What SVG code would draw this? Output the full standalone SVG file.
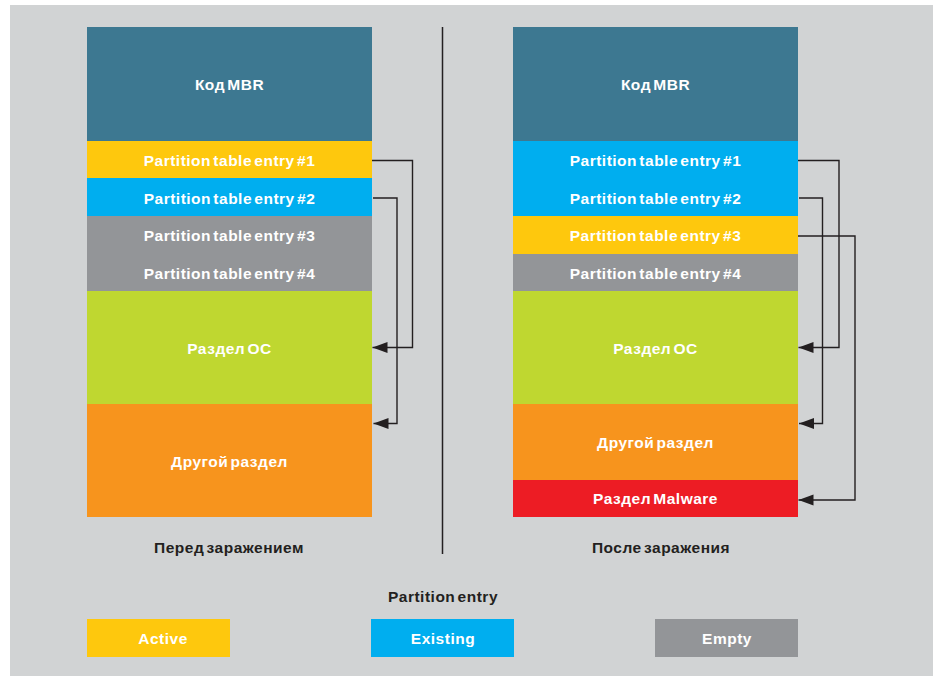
<svg xmlns="http://www.w3.org/2000/svg" width="935" height="676" viewBox="0 0 935 676">
<defs>
<style>
.t{font-family:"Liberation Sans",Arial,sans-serif;font-weight:bold;font-size:15.5px;fill:#fff;text-anchor:middle;letter-spacing:0.5px;word-spacing:-2.5px}
.d{fill:#231f20}
.c{fill:none;stroke:#231f20;stroke-width:1.4}
</style>
<marker id="ah" markerWidth="16" markerHeight="12" viewBox="0 0 16 12" refX="15" refY="6" orient="auto" markerUnits="userSpaceOnUse">
<path d="M0,0.5 L15,6 L0,11.5 Z" fill="#231f20"/>
</marker>
</defs>
<rect x="0" y="0" width="935" height="676" fill="#fff"/>
<rect x="10" y="5" width="923" height="671" fill="#d1d3d4"/>
<line x1="442.5" y1="27" x2="442.5" y2="554" stroke="#231f20" stroke-width="1.5"/>

<g id="left-stack">
<g id="l-mbr"><rect x="87" y="27" width="285" height="114" fill="#3d7891"/><text class="t" x="229.5" y="90">Код MBR</text></g>
<g id="l-e1"><rect x="87" y="141" width="285" height="37" fill="#fec80d"/><text class="t" x="229.5" y="165.5">Partition table entry #1</text></g>
<g id="l-e2"><rect x="87" y="178" width="285" height="38" fill="#00aeef"/><text class="t" x="229.5" y="203.5">Partition table entry #2</text></g>
<g id="l-e3"><rect x="87" y="216" width="285" height="38" fill="#939598"/><text class="t" x="229.5" y="241">Partition table entry #3</text></g>
<g id="l-e4"><rect x="87" y="254" width="285" height="37" fill="#939598"/><text class="t" x="229.5" y="278.5">Partition table entry #4</text></g>
<g id="l-os"><rect x="87" y="291" width="285" height="113" fill="#bfd730"/><text class="t" x="229.5" y="354">Раздел ОС</text></g>
<g id="l-other"><rect x="87" y="404" width="285" height="113" fill="#f7941d"/><text class="t" x="229.5" y="466.5">Другой раздел</text></g>
</g>

<g id="right-stack">
<g id="r-mbr"><rect x="513" y="27" width="285" height="114" fill="#3d7891"/><text class="t" x="655.5" y="90">Код MBR</text></g>
<g id="r-e1"><rect x="513" y="141" width="285" height="37" fill="#00aeef"/><text class="t" x="655.5" y="165.5">Partition table entry #1</text></g>
<g id="r-e2"><rect x="513" y="178" width="285" height="38" fill="#00aeef"/><text class="t" x="655.5" y="203.5">Partition table entry #2</text></g>
<g id="r-e3"><rect x="513" y="216" width="285" height="38" fill="#fec80d"/><text class="t" x="655.5" y="241">Partition table entry #3</text></g>
<g id="r-e4"><rect x="513" y="254" width="285" height="37" fill="#939598"/><text class="t" x="655.5" y="278.5">Partition table entry #4</text></g>
<g id="r-os"><rect x="513" y="291" width="285" height="113" fill="#bfd730"/><text class="t" x="655.5" y="354">Раздел ОС</text></g>
<g id="r-other"><rect x="513" y="404" width="285" height="76" fill="#f7941d"/><text class="t" x="655.5" y="447.5">Другой раздел</text></g>
<g id="r-malware"><rect x="513" y="480" width="285" height="37" fill="#ed1c24"/><text class="t" x="655.5" y="503.5">Раздел Malware</text></g>
</g>

<g id="connectors">
<path class="c" d="M372,160.5 H412.5 V347.5 H372.5" marker-end="url(#ah)"/>
<path class="c" d="M373,198 H397 V423.5 H373.5" marker-end="url(#ah)"/>
<path class="c" d="M798,160.5 H839 V347.5 H798.5" marker-end="url(#ah)"/>
<path class="c" d="M799,198 H822.5 V423.5 H799" marker-end="url(#ah)"/>
<path class="c" d="M798,236 H855 V500 H798.5" marker-end="url(#ah)"/>
</g>

<g id="captions">
<text class="t d" x="229" y="552.5">Перед заражением</text>
<text class="t d" x="661" y="552.5">После заражения</text>
<text class="t d" x="443" y="602">Partition entry</text>
</g>

<g id="legend">
<g id="lg-active"><rect x="87" y="619" width="143" height="38" fill="#fec80d"/><text class="t" x="163" y="644">Active</text></g>
<g id="lg-existing"><rect x="371" y="619" width="143" height="38" fill="#00aeef"/><text class="t" x="443" y="644">Existing</text></g>
<g id="lg-empty"><rect x="655" y="619" width="143" height="38" fill="#939598"/><text class="t" x="727" y="644">Empty</text></g>
</g>
</svg>
